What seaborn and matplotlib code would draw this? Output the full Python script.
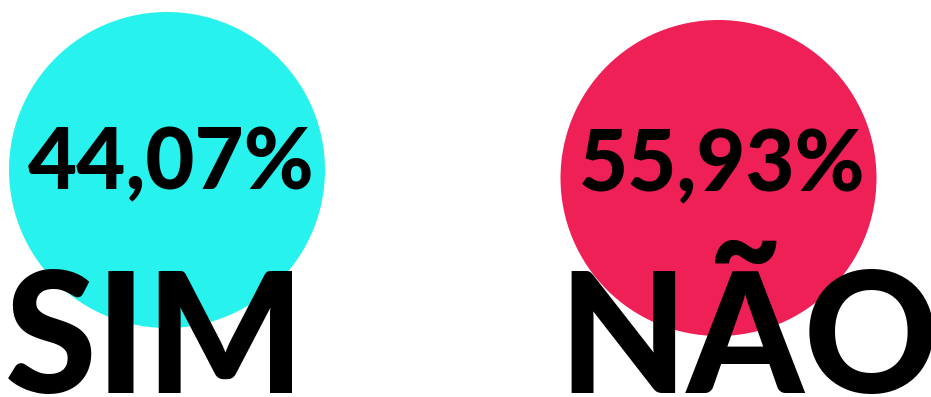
import matplotlib
matplotlib.use("Agg")
import matplotlib.pyplot as plt
import pandas as pd
import seaborn as sns

# Poll result
answers = ["SIM", "NÃO"]
shares = [44.07, 55.93]
colors = ["#27F2EE", "#EE2055"]

# Layout in figure pixels (origin top-left)
bubble_x = [167, 718.5]
bubble_y = [170, 178]
bubble_diam_px = 316
pct_x = [171, 722.5]
pct_base = [189, 191]
word_x = [155, 749]
word_base = [393, 393]

W, H, DPI = 931, 397, 100

sns.set_theme(style="white")
plt.rcParams["font.family"] = ["Lato", "DejaVu Sans"]

df = pd.DataFrame({"answer": answers, "share": shares, "x": bubble_x, "y": bubble_y})

fig = plt.figure(figsize=(W / DPI, H / DPI), dpi=DPI)
ax = fig.add_axes([0, 0, 1, 1])
ax.set_xlim(0, W)
ax.set_ylim(H, 0)
ax.set_axis_off()

size_pt = bubble_diam_px * 72 / DPI
sns.scatterplot(data=df, x="x", y="y", hue="answer", palette=colors,
                s=size_pt ** 2, linewidth=0, legend=False, ax=ax, zorder=1)

for i, row in df.iterrows():
    label = f"{row['share']:.2f}%".replace(".", ",")
    ax.text(pct_x[i], pct_base[i], label, ha="center", va="baseline",
            fontsize=61, fontweight=900, color="black", zorder=3)
    ax.text(word_x[i], word_base[i], row["answer"], ha="center", va="baseline",
            fontsize=120, fontweight=900, color="black", zorder=3)

fig.savefig("out.png", dpi=DPI)
